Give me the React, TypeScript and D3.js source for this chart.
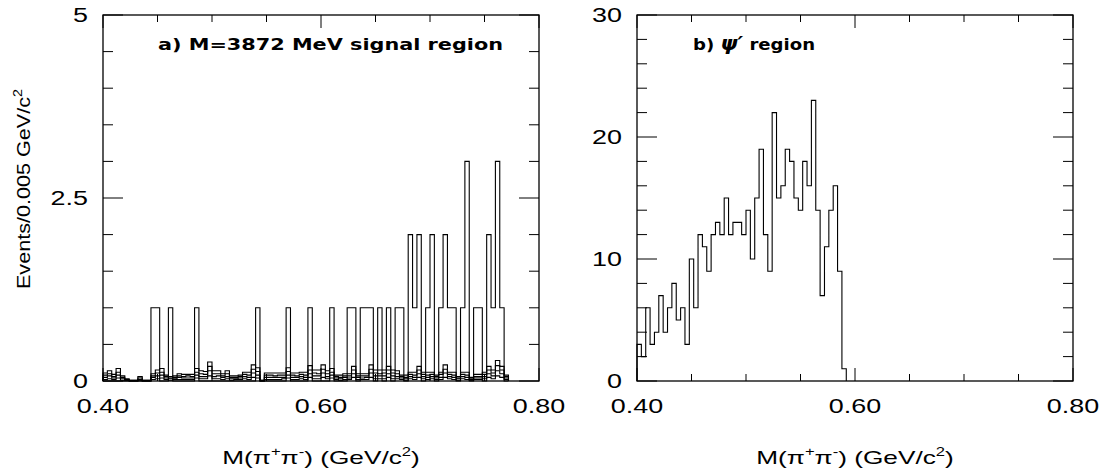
import React from 'react';
import * as d3 from 'd3';

// bins of 0.004 GeV starting at 0.40
const binStart = 0.4;
const binWidth = 0.004;

// a) M=3872 signal region, events per bin
const signalCounts = [
  0, 0, 0, 0, 0, 0, 0, 0, 0, 0,
  0, 1, 1, 0, 0, 1, 0, 0, 0, 0,
  0, 1, 0, 0, 0, 0, 0, 0, 0, 0,
  0, 0, 0, 0, 0, 1, 0, 0, 0, 0,
  0, 0, 1, 0, 0, 0, 0, 1, 0, 0,
  0, 0, 1, 0, 0, 0, 1, 1, 0, 1,
  1, 1, 0, 1, 0, 1, 0, 1, 1, 0,
  2, 1, 2, 0, 1, 2, 0, 1, 2, 1,
  1, 0, 1, 3, 0, 1, 1, 0, 2, 1,
  3, 1, 0,
];

// sideband background estimates (overlaid)
const bgA = [
  0.11, 0.14, 0.09, 0.17, 0.07, 0.03, 0.01, 0.01, 0.06, 0.01,
  0.01, 0.1, 0.15, 0.17, 0.08, 0.06, 0.07, 0.1, 0.09, 0.09,
  0.09, 0.17, 0.14, 0.13, 0.26, 0.14, 0.14, 0.1, 0.14, 0.07,
  0.07, 0.08, 0.12, 0.12, 0.22, 0.18, 0.01, 0.11, 0.11, 0.11,
  0.11, 0.11, 0.18, 0.11, 0.11, 0.12, 0.12, 0.21, 0.15, 0.15,
  0.22, 0.14, 0.17, 0.08, 0.08, 0.1, 0.1, 0.2, 0.1, 0.1,
  0.1, 0.22, 0.15, 0.15, 0.15, 0.2, 0.15, 0.14, 0.08, 0.08,
  0.12, 0.12, 0.2, 0.12, 0.12, 0.12, 0.08, 0.12, 0.22, 0.12,
  0.12, 0.06, 0.12, 0.12, 0.05, 0.09, 0.09, 0.12, 0.2, 0.15,
  0.28, 0.2, 0.08,
];
const bgB = [
  0.08, 0.1, 0.06, 0.12, 0.05, 0.02, 0.01, 0.01, 0.04, 0.01,
  0.01, 0.07, 0.11, 0.12, 0.06, 0.04, 0.05, 0.07, 0.06, 0.07,
  0.06, 0.12, 0.1, 0.09, 0.2, 0.1, 0.1, 0.07, 0.1, 0.05,
  0.05, 0.06, 0.09, 0.08, 0.16, 0.13, 0.01, 0.08, 0.08, 0.07,
  0.08, 0.08, 0.13, 0.08, 0.07, 0.09, 0.08, 0.15, 0.11, 0.1,
  0.16, 0.1, 0.12, 0.06, 0.05, 0.07, 0.07, 0.15, 0.07, 0.07,
  0.07, 0.16, 0.11, 0.1, 0.11, 0.15, 0.11, 0.1, 0.06, 0.05,
  0.09, 0.08, 0.15, 0.09, 0.08, 0.09, 0.06, 0.09, 0.16, 0.09,
  0.08, 0.04, 0.09, 0.08, 0.03, 0.06, 0.06, 0.09, 0.15, 0.11,
  0.21, 0.15, 0.06,
];
const bgC = [
  0.05, 0.07, 0.04, 0.08, 0.03, 0.01, 0, 0, 0.02, 0,
  0, 0.05, 0.07, 0.08, 0.04, 0.03, 0.03, 0.05, 0.04, 0.04,
  0.04, 0.08, 0.06, 0.06, 0.14, 0.06, 0.07, 0.05, 0.06, 0.03,
  0.03, 0.04, 0.06, 0.05, 0.11, 0.08, 0, 0.05, 0.05, 0.05,
  0.05, 0.05, 0.08, 0.05, 0.05, 0.06, 0.05, 0.1, 0.07, 0.07,
  0.11, 0.06, 0.08, 0.04, 0.03, 0.05, 0.04, 0.1, 0.05, 0.04,
  0.05, 0.11, 0.07, 0.07, 0.07, 0.1, 0.07, 0.06, 0.04, 0.03,
  0.06, 0.05, 0.1, 0.06, 0.05, 0.06, 0.04, 0.05, 0.11, 0.06,
  0.05, 0.03, 0.06, 0.05, 0.02, 0.04, 0.04, 0.06, 0.1, 0.07,
  0.14, 0.1, 0.04,
];
const bgD = [
  0.02, 0.03, 0.02, 0.04, 0.01, 0.01, 0, 0, 0.01, 0,
  0, 0.02, 0.03, 0.04, 0.02, 0.01, 0.02, 0.02, 0.02, 0.02,
  0.02, 0.04, 0.03, 0.03, 0.07, 0.03, 0.03, 0.02, 0.03, 0.01,
  0.02, 0.02, 0.03, 0.02, 0.05, 0.04, 0, 0.02, 0.02, 0.02,
  0.02, 0.03, 0.04, 0.02, 0.02, 0.03, 0.02, 0.05, 0.03, 0.03,
  0.05, 0.03, 0.04, 0.02, 0.01, 0.02, 0.02, 0.05, 0.02, 0.02,
  0.02, 0.05, 0.03, 0.03, 0.03, 0.05, 0.03, 0.03, 0.02, 0.01,
  0.03, 0.02, 0.05, 0.03, 0.02, 0.03, 0.02, 0.02, 0.05, 0.03,
  0.02, 0.01, 0.03, 0.02, 0.01, 0.02, 0.02, 0.03, 0.05, 0.03,
  0.07, 0.05, 0.02,
];

// b) psi' region
const psiCounts = [
  3, 2, 6, 3, 4, 7, 4, 6, 8, 5, 6, 3, 10, 6, 12, 11, 9, 12, 13, 12,
  15, 12, 13, 13, 12, 14, 10, 15, 19, 12, 9, 22, 15, 16, 19, 18, 15, 14, 18, 16,
  23, 14, 7, 11, 14, 16, 9, 1,
];

const xTickLabels = ['0.40', '0.60', '0.80'];
const xTickValues = [0.4, 0.6, 0.8];
const yLeftLabels = ['0', '2.5', '5'];
const yRightLabels = ['0', '10', '20', '30'];

const W = 1102;
const H = 471;
const top = 15;
const bottom = 381;
const sans = 'Liberation Sans, Arial, Helvetica, sans-serif';
const stretch = 1.38;

function histPath(counts: number[], x: d3.ScaleLinear<number, number>, y: d3.ScaleLinear<number, number>) {
  const p = d3.path();
  p.moveTo(x(binStart), y(0));
  counts.forEach((c, i) => {
    p.lineTo(x(binStart + i * binWidth), y(c));
    p.lineTo(x(binStart + (i + 1) * binWidth), y(c));
  });
  p.lineTo(x(binStart + counts.length * binWidth), y(0));
  return p.toString();
}

type PanelProps = {
  x0: number;
  yMax: number;
  yMinor: number;
  yMajor: number;
  yLabels: string[];
  title: React.ReactNode;
  titleLen: number;
  titleX: number;
  children: (x: d3.ScaleLinear<number, number>, y: d3.ScaleLinear<number, number>) => React.ReactNode;
};

const Panel: React.FC<PanelProps> = ({ x0, yMax, yMinor, yMajor, yLabels, title, titleLen, titleX, children }) => {
  const x = d3.scaleLinear().domain([0.4, 0.8]).range([x0, x0 + 436]);
  const y = d3.scaleLinear().domain([0, yMax]).range([bottom, top]);
  const xMinor = d3.range(0.4, 0.8001, 0.05);
  const yTicks = d3.range(0, yMax + 1e-6, yMinor);
  const isMajorX = (v: number) => Math.abs(v - 0.4) < 1e-6 || Math.abs(v - 0.6) < 1e-6 || Math.abs(v - 0.8) < 1e-6;
  const isMajorY = (v: number) => Math.abs(v / yMajor - Math.round(v / yMajor)) < 1e-6;
  const x1 = x0 + 436;
  return (
    <g>
      {children(x, y)}
      <rect x={x0} y={top} width={436} height={bottom - top} fill="none" stroke="#000" strokeWidth={1.3} />
      {xMinor.map((v, i) => {
        const len = isMajorX(v) ? 13 : 7;
        return (
          <g key={'xt' + i}>
            <line x1={x(v)} x2={x(v)} y1={bottom} y2={bottom - len} stroke="#000" />
            <line x1={x(v)} x2={x(v)} y1={top} y2={top + len} stroke="#000" />
          </g>
        );
      })}
      {yTicks.map((v, i) => {
        const len = isMajorY(v) ? 20 : 10;
        return (
          <g key={'yt' + i}>
            <line x1={x0} x2={x0 + len} y1={y(v)} y2={y(v)} stroke="#000" />
            <line x1={x1} x2={x1 - len} y1={y(v)} y2={y(v)} stroke="#000" />
          </g>
        );
      })}
      {xTickValues.map((v, i) => (
        <text
          key={'xl' + i}
          transform={`translate(${x(v)},413) scale(${stretch},1)`}
          textAnchor="middle"
          fontFamily={sans}
          fontSize={19.5}
        >
          {xTickLabels[i]}
        </text>
      ))}
      {yLabels.map((s, i) => (
        <text
          key={'yl' + i}
          transform={`translate(${x0 - 15},${y(+s) + 7}) scale(${stretch},1)`}
          textAnchor="end"
          fontFamily={sans}
          fontSize={19.5}
        >
          {s}
        </text>
      ))}
      <text
        x={titleX}
        y={49.5}
        fontFamily="DejaVu Sans, sans-serif"
        fontWeight="bold"
        fontSize={16}
        textLength={titleLen}
        lengthAdjust="spacingAndGlyphs"
      >
        {title}
      </text>
      <text
        transform={`translate(${x(0.6)},464) scale(${stretch},1)`}
        textAnchor="middle"
        fontFamily={sans}
        fontSize={19}
      >
        M(π
        <tspan fontSize={12} dy={-8}>+</tspan>
        <tspan dy={8}>π</tspan>
        <tspan fontSize={12} dy={-8}>-</tspan>
        <tspan dy={8}>) (GeV/c</tspan>
        <tspan fontSize={12} dy={-8}>2</tspan>
        <tspan dy={8}>)</tspan>
      </text>
    </g>
  );
};

const App: React.FC = () => {
  const bgLayers = [bgD, bgC, bgB, bgA];
  return (
    <svg width={W} height={H} style={{ position: 'absolute', left: 0, top: 0, background: '#fff' }}>
      <Panel
        x0={103}
        yMax={5}
        yMinor={0.5}
        yMajor={2.5}
        yLabels={yLeftLabels}
        title="a) M=3872 MeV signal region"
        titleLen={345}
        titleX={158}
      >
        {(x, y) => (
          <g fill="none" stroke="#000" strokeWidth={1.1}>
            {bgLayers.map((bg, i) => (
              <path key={i} d={histPath(bg, x, y)} />
            ))}
            <path d={histPath(signalCounts, x, y)} />
          </g>
        )}
      </Panel>
      <Panel
        x0={637}
        yMax={30}
        yMinor={2}
        yMajor={10}
        yLabels={yRightLabels}
        title={
          <>
            b) <tspan fontStyle="italic" fontSize={19}>ψ′</tspan> region
          </>
        }
        titleLen={122}
        titleX={693}
      >
        {(x, y) => <path d={histPath(psiCounts, x, y)} fill="none" stroke="#000" strokeWidth={1.1} />}
      </Panel>
      <text
        transform={`translate(30,189) rotate(-90) scale(1.2,1)`}
        textAnchor="middle"
        fontFamily={sans}
        fontSize={18}
      >
        Events/0.005 GeV/c
        <tspan fontSize={12} dy={-8}>2</tspan>
      </text>
    </svg>
  );
};

export default App;
